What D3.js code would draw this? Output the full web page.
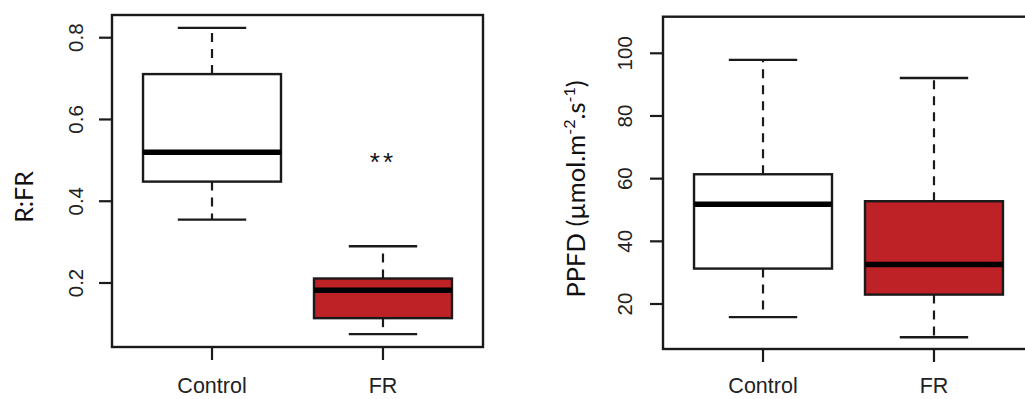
<!DOCTYPE html>
<html>
<head>
<meta charset="utf-8">
<script src="https://cdn.jsdelivr.net/npm/d3@7"></script>
<style>
  html, body { margin: 0; padding: 0; background: #fff; }
  svg { display: block; }
</style>
</head>
<body>
<svg id="chart" width="1025" height="399"></svg>
<script>
// ---- data ----
const categories = ["Control", "FR"];
// R:FR box statistics [lowerWhisker, Q1, median, Q3, upperWhisker]
const rfrStats = [
  [0.355, 0.448, 0.520, 0.711, 0.824],
  [0.075, 0.114, 0.182, 0.211, 0.290]
];
// PPFD box statistics
const ppfdStats = [
  [15.8, 31.3, 51.8, 61.4, 97.9],
  [9.4, 23.0, 32.6, 52.8, 92.1]
];
const fills = ["#ffffff", "#be2126"];
const rfrTicks = [0.2, 0.4, 0.6, 0.8];
const ppfdTicks = [20, 40, 60, 80, 100];
const significance = "**";

const svg = d3.select("#chart");
const ink = "#1a1a1a";

function panel(cfg) {
  const g = svg.append("g");
  const x = d3.scaleLinear().domain([0.415, 2.585]).range([cfg.left, cfg.right]);
  const y = d3.scaleLinear().domain(cfg.tickDomain).range(cfg.tickRange);
  const boxW = x(1.4035) - x(1);
  const capW = x(1.2) - x(1);

  g.append("rect")
    .attr("x", cfg.left).attr("y", cfg.top)
    .attr("width", cfg.right - cfg.left).attr("height", cfg.bottom - cfg.top)
    .attr("fill", "none").attr("stroke", ink).attr("stroke-width", 2.4);

  cfg.ticks.forEach(t => {
    g.append("line")
      .attr("x1", cfg.left - 13).attr("x2", cfg.left)
      .attr("y1", y(t)).attr("y2", y(t))
      .attr("stroke", ink).attr("stroke-width", 2.2);
    g.append("text")
      .attr("transform", `translate(${cfg.tickLabelX},${y(t)}) rotate(-90)`)
      .attr("text-anchor", "middle")
      .attr("font-family", "Liberation Sans, Arial, sans-serif")
      .attr("font-size", 20.5)
      .attr("fill", "#222")
      .text(cfg.tickFormat(t));
  });

  categories.forEach((c, i) => {
    const cx = x(i + 1);
    g.append("line")
      .attr("x1", cx).attr("x2", cx)
      .attr("y1", cfg.bottom).attr("y2", cfg.bottom + 13)
      .attr("stroke", ink).attr("stroke-width", 2.2);
    g.append("text")
      .attr("x", cx).attr("y", 393)
      .attr("text-anchor", "middle")
      .attr("font-family", "Liberation Sans, Arial, sans-serif")
      .attr("font-size", 21.5)
      .attr("fill", "#222")
      .text(c);
  });

  cfg.stats.forEach((s, i) => {
    const cx = x(i + 1);
    const [lo, q1, med, q3, hi] = s;
    g.append("line").attr("x1", cx).attr("x2", cx)
      .attr("y1", y(q3)).attr("y2", y(hi))
      .attr("stroke", ink).attr("stroke-width", 2.2).attr("stroke-dasharray", "9,7");
    g.append("line").attr("x1", cx).attr("x2", cx)
      .attr("y1", y(q1)).attr("y2", y(lo))
      .attr("stroke", ink).attr("stroke-width", 2.2).attr("stroke-dasharray", "9,7");
    [lo, hi].forEach(v => {
      g.append("line").attr("x1", cx - capW).attr("x2", cx + capW)
        .attr("y1", y(v)).attr("y2", y(v))
        .attr("stroke", ink).attr("stroke-width", 2.4);
    });
    g.append("rect")
      .attr("x", cx - boxW).attr("y", y(q3))
      .attr("width", 2 * boxW).attr("height", y(q1) - y(q3))
      .attr("fill", fills[i]).attr("stroke", ink).attr("stroke-width", 2.4);
    g.append("line").attr("x1", cx - boxW).attr("x2", cx + boxW)
      .attr("y1", y(med)).attr("y2", y(med))
      .attr("stroke", "#000").attr("stroke-width", 5.5);
  });

  return { g, x, y };
}

const left = panel({
  left: 112, right: 483, top: 15, bottom: 347,
  tickDomain: [0.2, 0.8], tickRange: [283, 37.7],
  ticks: rfrTicks, tickFormat: d3.format(".1f"),
  tickLabelX: 83, stats: rfrStats
});
left.g.append("text")
  .attr("transform", `translate(33,197) rotate(-90)`)
  .attr("text-anchor", "middle")
  .attr("font-family", "Lato, 'Open Sans', sans-serif")
  .attr("font-size", 25)
  .attr("fill", "#111")
  .text("R:FR");
left.g.append("text")
  .attr("x", left.x(2)).attr("y", 171)
  .attr("text-anchor", "middle")
  .attr("font-family", "Liberation Sans, Arial, sans-serif")
  .attr("font-size", 26)
  .attr("letter-spacing", 3)
  .attr("fill", "#111")
  .text(significance);

const right = panel({
  left: 663, right: 1034, top: 16.7, bottom: 349,
  tickDomain: [20, 100], tickRange: [304, 53.3],
  ticks: ppfdTicks, tickFormat: d3.format("d"),
  tickLabelX: 632, stats: ppfdStats
});
const yl = right.g.append("text")
  .attr("transform", `translate(585,189) rotate(-90)`)
  .attr("text-anchor", "middle")
  .attr("font-family", "Lato, 'Open Sans', sans-serif")
  .attr("font-size", 25.5)
  .attr("fill", "#111");
yl.append("tspan").text("PPFD (µmol.m");
yl.append("tspan").attr("dy", -10).attr("font-size", 16).text("-2");
yl.append("tspan").attr("dy", 10).text(".s");
yl.append("tspan").attr("dy", -10).attr("font-size", 16).text("-1");
yl.append("tspan").attr("dy", 10).text(")");
</script>
</body>
</html>
